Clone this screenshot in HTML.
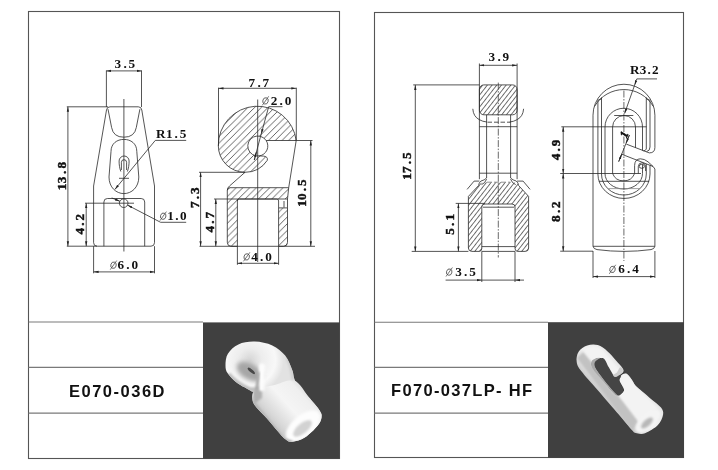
<!DOCTYPE html>
<html><head><meta charset="utf-8">
<style>
html,body{margin:0;padding:0;background:#fff;}
body{width:718px;height:470px;overflow:hidden;font-family:"Liberation Sans",sans-serif;}
svg{display:block;filter:grayscale(1);}
.f{fill:none;stroke:#555;stroke-width:1.1;}
.g{fill:none;stroke:#7a7a7a;stroke-width:1.1;}
.l{fill:none;stroke:#2a2a2a;stroke-width:0.8;}
.d{fill:none;stroke:#2a2a2a;stroke-width:0.7;stroke-dasharray:7 1.5 1.5 1.5;}
.t{font-family:"Liberation Serif",serif;font-weight:bold;font-size:13.2px;fill:#111;}
.r{stroke:#111;stroke-width:0.45px;}
.lab{font-family:"Liberation Sans",sans-serif;font-weight:bold;font-size:16.5px;fill:#111;}
</style></head><body>
<svg width="718" height="470" viewBox="0 0 718 470">
<defs>
<marker id="a" viewBox="0 0 10 10" refX="10" refY="5" markerWidth="5" markerHeight="5" orient="auto-start-reverse" markerUnits="userSpaceOnUse"><path d="M0 2.7 L10 5 L0 7.3z" fill="#222"/></marker>
<g id="dia"><ellipse cx="0.2" cy="-4" rx="2.7" ry="3.2" transform="rotate(18 0.2 -4)" fill="none" stroke="#444" stroke-width="0.75"/><path d="M-3 0.4 L3.4 -8.6" stroke="#444" stroke-width="0.75" fill="none"/></g>
<pattern id="h" width="6.7" height="6.7" patternUnits="userSpaceOnUse" patternTransform="translate(0.3 0)"><path d="M-1 7.7 L7.7 -1 M-1 1 L1 -1 M5.7 7.7 L7.7 5.7" stroke="#3a3a3a" stroke-width="0.8" fill="none"/></pattern>
<pattern id="h2" width="6.7" height="6.7" patternUnits="userSpaceOnUse" patternTransform="translate(1.8 0)"><path d="M-1 7.7 L7.7 -1 M-1 1 L1 -1 M5.7 7.7 L7.7 5.7" stroke="#3a3a3a" stroke-width="0.8" fill="none"/></pattern>
<pattern id="h3" width="10" height="3.7" patternUnits="userSpaceOnUse" patternTransform="translate(469.6 203.2) rotate(-52)"><path d="M0 0.4 H10" stroke="#3a3a3a" stroke-width="0.8" fill="none"/></pattern>
<!--DEFS-->
</defs>
<rect width="718" height="470" fill="#fff"/>
<g id="frames">
<rect class="f" x="28.5" y="11.5" width="311" height="447"/>
<rect class="f" x="374.5" y="12.5" width="309" height="445"/>
<path class="g" d="M28.5 322H203 M28.5 367.4H203 M28.5 413.1H203"/>
<path class="g" d="M374.5 322.3H548 M374.5 367.4H548 M374.5 413.1H548"/>
<rect x="203" y="322.4" width="136.6" height="136.2" fill="#404040"/>
<rect x="548" y="322.2" width="136" height="135.6" fill="#404040"/>
</g>
<text class="lab" x="69" y="397.3" textLength="95.5" lengthAdjust="spacing">E070-036D</text>
<text class="lab" x="391" y="396.3" textLength="141" lengthAdjust="spacing">F070-037LP- HF</text>
<g id="draw1">
<path class="l" d="M93.6 242.7 V186 L106.5 110 Q107 106.8 110 106.8 H138.3 Q141.3 106.8 141.8 110 L154.5 186 V242.7 Q154.5 246.2 151 246.2 H97.1 Q93.6 246.2 93.6 242.7 Z"/>
<path class="l" d="M108 109.2 L111.6 127.5 Q113.3 137.2 123.9 137.2 Q134.6 137.2 136.3 127.5 L139.9 109.2"/>
<path class="l" d="M111 151.5 C111 143.5 117 139.4 123.9 139.4 C130.8 139.4 136.8 143.5 136.8 151.5 L138.8 177 C138.8 187.5 131.5 193.6 123.9 193.6 C116.3 193.6 109 187.5 109 177 Z"/>
<path class="l" d="M120.8 171.5 C119.6 168 119.1 165 119.1 161 A5 5 0 0 1 129.1 161 C129.1 165 128.6 168 127.4 171.5"/>
<path class="l" d="M121.4 170 V162.3 A2.6 2.6 0 0 1 126.6 162.3 V170"/>
<path class="l" d="M119 178.3 H129"/>
<path class="l" d="M103.9 246.2 V202 Q103.9 198.5 107.4 198.5 H141.2 Q144.7 198.5 144.7 202 V246.2"/>
<circle class="l" cx="123.7" cy="203.2" r="4.3"/>
<path class="l" d="M123.9 99 V251.5"/>
<path class="l" d="M106.4 70.4 V107 M141.5 70.4 V107"/>
<path class="l" d="M106.4 70.9 H141.5" marker-start="url(#a)" marker-end="url(#a)"/>
<text class="t" transform="translate(114.90 68.00)" x="-0.30 8.50 13.70">3.5</text>
<path class="l" d="M66.8 106.8 H108 M66.8 246.2 H97"/>
<path class="l" d="M67.9 106.8 V246.2" marker-start="url(#a)" marker-end="url(#a)"/>
<text class="t r" transform="translate(66.00 175.90) rotate(-90)" x="-14.30 -7.30 1.80 7.30">13.8</text>
<path class="l" d="M85 203.2 H134"/>
<path class="l" d="M86.2 203.2 V246.2" marker-start="url(#a)" marker-end="url(#a)"/>
<text class="t r" transform="translate(84.00 224.00) rotate(-90)" x="-10.50 -1.70 3.50">4.2</text>
<path class="l" d="M186.2 140.4 H155.3 L114.9 189.4" marker-end="url(#a)"/>
<text class="t" transform="translate(156.40 138.30)" x="-0.30 9.60 18.10 23.30">R1.5</text>
<path class="l" d="M111.7 197.9 L119.9 201.3" marker-end="url(#a)"/>
<path class="l" d="M186.2 222.3 H160.6 L127.5 205.1" marker-end="url(#a)"/>
<use href="#dia" x="163.00" y="220.20"/><text class="t" transform="translate(167.20 220.20)" x="0.00 8.10 12.90">1.0</text>
<path class="l" d="M93.6 246.2 V273.3 M154.5 246.2 V273.3"/>
<path class="l" d="M93.6 271.9 H154.5" marker-start="url(#a)" marker-end="url(#a)"/>
<use href="#dia" x="113.30" y="269.20"/><text class="t" transform="translate(117.80 269.20)" x="-0.30 8.50 13.70">6.0</text>
</g>
<g id="draw2">
<path class="l" style="fill:url(#h)" d="M296.2 140.5 A39.1 39.1 0 0 0 218.3 145.6 A26.7 26.7 0 0 0 245 172.3 A26.7 26.7 0 0 0 267.3 160.3 Q268.2 156.6 263.5 156.1 L259.3 155.9 A10 10 0 1 1 266.15 140.5 Z"/>
<path class="l" d="M259.3 155.9 A10 10 0 0 0 266.15 140.5"/>
<path class="l" d="M245 172.3 L229.5 186 Q227.6 187.6 227.4 190 M296.2 140.5 L288.7 187.7"/>
<path class="l" style="fill:url(#h2)" d="M227.3 190 Q227.4 187.7 230 187.7 H288.7 L287.5 199 H237.4 V246.3 H231.2 Q227.3 246.3 227.3 242.3 Z"/>
<path class="l" style="fill:url(#h2)" d="M278.6 207.9 H287.5 V242.3 Q287.5 246.3 283.5 246.3 H278.6 Z"/>
<path class="l" d="M237.4 201 Q237.4 199 239.3 199 H276.8 Q278.6 199 278.6 201 V207.9 M287.5 199 V207.9 M284 201 V207.5"/>
<path class="l" d="M257.7 99.5 V262"/>
<path class="l" d="M218.5 87.7 V146 M296.3 87.7 V140.5"/>
<path class="l" d="M218.5 88.3 H296.3" marker-start="url(#a)" marker-end="url(#a)"/>
<text class="t" transform="translate(248.90 86.60)" x="-0.30 8.50 13.70">7.7</text>
<path class="l" d="M282.5 106.7 H268.7 L261.2 134" marker-end="url(#a)"/>
<path class="l" d="M261.2 134 L254.3 160"/>
<path class="l" d="M256.4 152 L254.3 160" marker-start="url(#a)"/>
<use href="#dia" x="265.30" y="104.90"/><text class="t" transform="translate(271.00 104.90)" x="-0.30 8.50 13.70">2.0</text>
<path class="l" d="M296.2 140.5 H312.5 M199.5 246.3 H315"/>
<path class="l" d="M310.8 140.5 V246.3" marker-start="url(#a)" marker-end="url(#a)"/>
<text class="t r" transform="translate(305.50 193.00) rotate(-90)" x="-13.70 -7.00 1.80 7.00">10.5</text>
<path class="l" d="M199 172.3 H245"/>
<path class="l" d="M200.6 172.3 V246.3" marker-start="url(#a)" marker-end="url(#a)"/>
<text class="t r" transform="translate(199.00 197.50) rotate(-90)" x="-10.50 -1.70 3.50">7.3</text>
<path class="l" d="M214 199 H237.5"/>
<path class="l" d="M215.8 199 V246.3" marker-start="url(#a)" marker-end="url(#a)"/>
<text class="t r" transform="translate(214.00 222.00) rotate(-90)" x="-10.50 -1.70 3.50">4.7</text>
<path class="l" d="M237.4 246.3 V264.8 M278.6 246.3 V264.8"/>
<path class="l" d="M237.4 263.3 H278.6" marker-start="url(#a)" marker-end="url(#a)"/>
<use href="#dia" x="246.50" y="260.90"/><text class="t" transform="translate(251.50 260.90)" x="-0.30 8.50 13.70">4.0</text>
</g>
<g id="draw3">
<!-- top block -->
<rect class="l" style="fill:url(#h3)" x="479.4" y="84.9" width="37.7" height="29.9" rx="4.5"/>
<!-- ears -->
<path class="l" d="M472.8 108.8 Q473.3 116.5 479.2 119.6 Q482.5 121.6 486.8 122 M523.6 108.8 Q523.1 116.5 517.2 119.6 Q513.9 121.6 509.7 122"/>
<!-- neck + ext lines -->
<path class="l" d="M479.4 63.5 V179.2 M517.1 63.5 V179.2 M486.6 114.8 V178 M510.6 114.8 V178"/>
<path class="l" d="M479.4 126.7 H517.1 M479.4 173.2 H517.1"/>
<path class="l" style="stroke-dasharray:4.5 2" d="M487.5 122.2 H510.5"/>
<!-- fillets neck->body -->
<path class="l" d="M486.6 178 Q484.5 180.2 481 181 Q478.8 182.5 478.6 185.5 M486.6 179.2 Q485 183.5 481.5 184.6 M510.6 178 Q512.7 180.2 516.2 181 Q518.4 182.5 518.6 185.5 M510.6 179.2 Q512.2 183.5 515.7 184.6"/>
<path class="l" d="M474.1 181.1 H479.4 M517.1 181.1 H523.1 M474.1 181.1 L467.1 189.4 M523.1 181.1 L530.1 189.4"/>
<!-- body hatch -->
<path style="fill:url(#h3);stroke:none" d="M478.6 185.5 Q479 182.3 486.6 182.3 H510.6 Q518.2 182.3 518.6 185.5 L528.6 196.4 V248 Q528.6 251.4 525 251.4 H518 Q515 251.4 515 248.5 V207 Q515 204 512 204 H485 Q481.8 204 481.8 207 V248.5 Q481.8 251.4 479 251.4 H472 Q468.4 251.4 468.4 248 V196.4 Z"/>
<path class="l" d="M478.6 185.5 L468.4 196.4 V248 Q468.4 251.4 472 251.4 H479 Q481.8 251.4 481.8 248.5 V207 Q481.8 204 485 204 H512 Q515 204 515 207 V248.5 Q515 251.4 518 251.4 H525 Q528.6 251.4 528.6 248 V196.4 L518.6 185.5"/>
<path class="l" style="stroke:#777;stroke-dasharray:5 2" d="M487 182.2 H510.4"/>
<path class="l" d="M483 207.2 H514 M481.8 246.6 H515 M481.8 251.4 H515"/>
<!-- center -->
<path class="d" d="M498.3 82.6 V257.5"/>
<!-- 3.9 -->
<path class="l" d="M479.4 65.3 H517.1" marker-start="url(#a)" marker-end="url(#a)"/>
<text class="t" transform="translate(488.90 61.20)" x="-0.30 8.50 13.70">3.9</text>
<!-- 17.5 -->
<path class="l" d="M413.2 84.9 H479.4 M411.7 251.4 H468.4"/>
<path class="l" d="M415.3 84.9 V251.4" marker-start="url(#a)" marker-end="url(#a)"/>
<text class="t r" transform="translate(411.00 166.00) rotate(-90)" x="-13.70 -7.00 1.80 7.00">17.5</text>
<!-- 5.1 -->
<path class="l" d="M455.7 203.4 H485"/>
<path class="l" d="M458.4 203.4 V251.4" marker-start="url(#a)" marker-end="url(#a)"/>
<text class="t r" transform="translate(454.40 224.30) rotate(-90)" x="-10.50 -1.70 3.80">5.1</text>
<!-- dia 3.5 -->
<path class="l" d="M481.8 251.4 V282 M515 251.4 V282"/>
<path class="l" d="M445.6 280.1 H481.8" marker-end="url(#a)"/>
<path class="l" d="M524 280.1 H515" marker-end="url(#a)"/>
<path class="l" d="M481.8 280.1 H515"/>
<use href="#dia" x="449.00" y="276.10"/><text class="t" transform="translate(455.60 276.10)" x="-0.30 8.50 13.70">3.5</text>
</g>
<g id="draw4">
<!-- outer silhouette -->
<path class="l" d="M593 246.3 V115.2 A30.95 30.95 0 0 1 654.9 115.2 V147.5 Q654.9 152.9 649.3 152.9 M654.9 246.3 V169 L653.1 166.5"/>
<!-- second top arc and chamfer verticals -->
<path class="l" d="M594.6 106.3 A34 34 0 0 1 653.2 106.3"/>
<path class="l" d="M597.9 100.3 V174 M601.5 97.4 V174 M650 100.3 V147 M646.3 97.4 V149"/>
<path class="l" d="M597.9 100.3 L601.5 98.6 M650 100.3 L646.3 98.6"/>
<!-- slot arches -->
<path class="l" d="M605 173.5 V127 A18.75 18.75 0 0 1 642.5 127 V150.6"/>
<path class="l" d="M612.6 173.5 V127 A11.45 11.45 0 0 1 635.5 127 V147.8"/>
<path class="l" d="M614.2 115.5 H633.3"/>
<!-- right arm rounded end -->
<path class="l" d="M650 147 Q650 151 646.5 151.6 M646.3 149 Q645.5 150.8 643.5 151"/>
<!-- gap diagonals -->
<path class="l" d="M626.3 144.1 L649.3 152.9 M621.4 154.1 L653.1 166.5"/>
<!-- hook tip -->
<path class="l" d="M634.6 173.5 V165.5 Q634.8 159 640.3 158.8 Q644.5 158.8 648 161.8 L653.1 166.5 M638.3 173.5 V166.5 Q638.6 162.8 641.8 162.8 Q645.3 163 645.6 166.2 V171 M642.5 165 V173.5 M650 165.3 V174 M646.3 164 V174"/>
<ellipse class="l" cx="641.8" cy="166.3" rx="2.6" ry="2"/>
<!-- U bottoms -->
<path class="l" d="M612.6 173.5 A11.7 11.2 0 0 0 634.6 173.5"/>
<path class="l" d="M605 173.5 A18.75 15.5 0 0 0 642.5 173.5"/>
<path class="l" d="M601.5 174 A22.4 21 0 0 0 646.3 174"/>
<path class="l" d="M597.9 174 A26.05 24.5 0 0 0 650 174"/>
<path class="l" d="M598.8 181.3 H649.2"/>
<path class="l" style="stroke:#888" d="M608.5 188.6 H640"/>
<!-- bottom -->
<path class="l" d="M593 246.3 H654.9 M593 246.3 Q593.5 249 597 249.6 Q624 253.2 651 249.6 Q654.4 249 654.9 246.3"/>
<!-- center -->
<path class="d" d="M623.9 90.5 V261"/>
<!-- R3.2 -->
<path class="l" d="M657 78.9 H636.8 L634.6 85.2" marker-end="url(#a)"/>
<path class="l" d="M634.6 85.2 L624.6 113.5" marker-end="url(#a)"/>
<text class="t" transform="translate(630.40 74.20)" x="-0.30 9.30 17.20 21.50">R3.2</text>
<!-- 4.9 / 8.2 -->
<path class="l" d="M561.3 126.8 H646.5 M560.2 173.5 H641 M560.2 251.2 H593"/>
<path class="l" d="M563.2 126.8 V173.5" marker-start="url(#a)" marker-end="url(#a)"/>
<path class="l" d="M563.2 173.5 V251.2" marker-start="url(#a)" marker-end="url(#a)"/>
<text class="t r" transform="translate(559.60 149.70) rotate(-90)" x="-10.50 -1.70 3.50">4.9</text>
<text class="t r" transform="translate(559.60 211.40) rotate(-90)" x="-10.50 -1.70 3.50">8.2</text>
<!-- 1 -->
<path class="l" d="M629.4 135 L618.7 161.6"/>
<path class="l" d="M629.4 135 L626.2 143" marker-end="url(#a)"/>
<path class="l" d="M618.7 161.6 L621.7 154.2" marker-end="url(#a)"/>
<text transform="translate(626.4 138.6) rotate(-68)" style="font-family:'Liberation Serif',serif;font-weight:bold;font-style:italic;font-size:11.5px;fill:#111;stroke:#111;stroke-width:0.5px">1</text>
<!-- dia 6.4 -->
<path class="l" d="M593 251 V278 M654.9 251 V278"/>
<path class="l" d="M593 276.6 H654.9" marker-start="url(#a)" marker-end="url(#a)"/>
<use href="#dia" x="612.30" y="273.40"/><text class="t" transform="translate(618.60 273.40)" x="-0.30 8.50 13.70">6.4</text>
</g>
<g id="photo1">
<defs>
<filter id="b1" x="-10%" y="-10%" width="120%" height="120%"><feGaussianBlur stdDeviation="0.7"/></filter>
<filter id="b2" x="-30%" y="-30%" width="160%" height="160%"><feGaussianBlur stdDeviation="2.2"/></filter>
<filter id="b3" x="-30%" y="-30%" width="160%" height="160%"><feGaussianBlur stdDeviation="1.2"/></filter>
<linearGradient id="cg1" gradientUnits="userSpaceOnUse" x1="258" y1="420" x2="302" y2="381">
<stop offset="0" stop-color="#b8b8b8"/><stop offset="0.25" stop-color="#d9d9d9"/><stop offset="0.55" stop-color="#f5f5f5"/><stop offset="0.85" stop-color="#efefef"/><stop offset="1" stop-color="#d4d4d4"/></linearGradient>
<radialGradient id="hg1" gradientUnits="userSpaceOnUse" cx="250" cy="360" r="34">
<stop offset="0" stop-color="#d6d6d6"/><stop offset="0.35" stop-color="#ededed"/><stop offset="0.75" stop-color="#f8f8f8"/><stop offset="1" stop-color="#e2e2e2"/></radialGradient>
<clipPath id="c1"><path d="M225.5 365.4 C225.5 362.1 225.7 357.2 227.9 353.7 C230.0 350.2 233.9 346.4 238.4 344.4 C242.9 342.3 249.1 341.4 254.8 341.6 C260.4 341.7 267.3 343.2 272.3 345.5 C277.4 347.9 281.9 351.5 285.2 355.6 C288.5 359.7 290.5 365.7 292.2 370.1 C294.0 374.5 293.0 377.3 295.7 381.8 C298.5 386.3 304.6 392.3 308.6 397.0 C312.6 401.8 317.5 407.0 319.6 410.4 C321.8 413.8 321.8 414.8 321.5 417.4 C321.1 420.0 320.2 422.5 317.5 425.8 C314.8 429.1 309.1 434.7 305.1 437.3 C301.1 439.9 296.7 441.2 293.4 441.5 C290.1 441.8 289.3 442.7 285.2 439.1 C281.1 435.6 274.1 426.4 268.8 420.4 C263.6 414.5 256.1 407.8 253.6 403.3 C251.1 398.9 254.2 395.7 253.6 393.5 C253.0 391.4 252.8 392.2 250.1 390.5 C247.4 388.7 240.9 385.8 237.2 383.0 C233.5 380.2 229.8 376.5 227.9 373.6 C225.9 370.7 225.5 368.7 225.5 365.4Z"/></clipPath>
</defs>
<g filter="url(#b1)">
<path d="M225.5 365.4 C225.5 362.1 225.7 357.2 227.9 353.7 C230.0 350.2 233.9 346.4 238.4 344.4 C242.9 342.3 249.1 341.4 254.8 341.6 C260.4 341.7 267.3 343.2 272.3 345.5 C277.4 347.9 281.9 351.5 285.2 355.6 C288.5 359.7 290.5 365.7 292.2 370.1 C294.0 374.5 293.0 377.3 295.7 381.8 C298.5 386.3 304.6 392.3 308.6 397.0 C312.6 401.8 317.5 407.0 319.6 410.4 C321.8 413.8 321.8 414.8 321.5 417.4 C321.1 420.0 320.2 422.5 317.5 425.8 C314.8 429.1 309.1 434.7 305.1 437.3 C301.1 439.9 296.7 441.2 293.4 441.5 C290.1 441.8 289.3 442.7 285.2 439.1 C281.1 435.6 274.1 426.4 268.8 420.4 C263.6 414.5 256.1 407.8 253.6 403.3 C251.1 398.9 254.2 395.7 253.6 393.5 C253.0 391.4 252.8 392.2 250.1 390.5 C247.4 388.7 240.9 385.8 237.2 383.0 C233.5 380.2 229.8 376.5 227.9 373.6 C225.9 370.7 225.5 368.7 225.5 365.4Z" fill="url(#hg1)"/>
<path d="M254.8 390.0 C258.1 387.0 267.0 386.9 273.5 385.3 C280.1 383.8 288.3 378.7 294.1 380.6 C300.0 382.6 304.4 392.1 308.6 397.0 C312.9 402.0 317.5 407.0 319.6 410.4 C321.8 413.8 321.8 414.8 321.5 417.4 C321.1 420.0 320.2 422.5 317.5 425.8 C314.8 429.1 309.1 434.7 305.1 437.3 C301.1 439.9 296.7 441.2 293.4 441.5 C290.1 441.8 289.3 442.7 285.2 439.1 C281.1 435.6 274.1 426.4 268.8 420.4 C263.6 414.5 256.0 408.4 253.6 403.3 C251.3 398.3 251.5 393.0 254.8 390.0Z" fill="url(#cg1)"/>
<g clip-path="url(#c1)">
<!-- shadow inside ring near hole -->
<ellipse cx="249.5" cy="371.5" rx="14" ry="8" transform="rotate(30 249.5 371.5)" fill="#a6a6a6" filter="url(#b2)"/>
<!-- ring bottom shading -->
<path d="M228.5 374 Q236 383 250 389.5 L258 389.5" stroke="#bdbdbd" stroke-width="4" fill="none" filter="url(#b3)"/>
<path d="M287 358 Q292 368 293 380" stroke="#cfcfcf" stroke-width="3" fill="none" filter="url(#b3)"/>
<!-- shadow under head on cylinder -->
<path d="M253 392 L262 384 L262 398 L254 404Z" fill="#b0b0b0" filter="url(#b3)"/>
<!-- tab -->
<path d="M259 365 Q262 361.5 265 365 L264.5 390 Q261 393 258.5 389Z" fill="#fcfcfc" filter="url(#b3)"/>
<path d="M257.5 372 L259.5 372 L258.5 390 L255 390Z" fill="#a8a8a8" filter="url(#b3)"/>
<!-- hole -->
<ellipse cx="251.3" cy="370.9" rx="4.6" ry="1.5" transform="rotate(40 251.3 370.9)" fill="#484848"/>
<!-- end cap -->
<ellipse cx="303" cy="426" rx="20.5" ry="10.5" transform="rotate(-40 303 426)" fill="#fdfdfd" filter="url(#b3)"/>
<ellipse cx="302.5" cy="428.5" rx="11.5" ry="5" transform="rotate(-40 302.5 428.5)" fill="#d2d2d2" filter="url(#b3)"/>
<!-- lower-left edge darkening -->
<path d="M253 402 L284 440 L292 442" stroke="#b4b4b4" stroke-width="3" fill="none" filter="url(#b3)"/>
</g>
</g>
</g>
<g id="photo2">
<defs>
<linearGradient id="cg2" gradientUnits="userSpaceOnUse" x1="611" y1="411" x2="640" y2="385">
<stop offset="0" stop-color="#bdbdbd"/><stop offset="0.22" stop-color="#dcdcdc"/><stop offset="0.55" stop-color="#f1f1f1"/><stop offset="1" stop-color="#e6e6e6"/></linearGradient>
<clipPath id="c2"><path d="M576.7 361.9 C576.2 358.7 576.8 354.6 578.6 351.8 C580.3 349.1 584.0 346.7 587.2 345.5 C590.4 344.4 594.4 344.1 597.8 345.1 C601.2 346.0 604.6 348.8 607.6 351.4 C610.6 354.0 613.4 357.4 616.0 360.5 C618.7 363.6 622.9 367.7 623.5 370.1 C624.1 372.5 621.5 373.5 619.8 374.8 C618.0 376.0 615.1 378.8 613.0 377.6 C610.9 376.3 608.9 370.3 607.1 367.3 C605.4 364.3 604.2 360.9 602.4 359.3 C600.7 357.8 598.4 357.5 596.6 358.2 C594.8 358.9 591.8 361.6 591.4 363.6 C591.1 365.5 592.2 367.1 594.3 370.1 C596.3 373.1 600.5 377.6 603.6 381.3 C606.7 385.1 610.6 390.2 613.0 392.6 C615.4 394.9 616.1 395.7 617.9 395.4 C619.7 395.1 623.4 392.5 624.0 390.7 C624.6 388.9 622.4 386.4 621.6 384.6 C620.9 382.8 619.6 381.5 619.5 379.9 C619.5 378.4 620.3 376.3 621.4 375.3 C622.5 374.2 624.6 372.9 626.3 373.6 C628.0 374.3 630.2 377.5 631.7 379.5 C633.2 381.4 633.5 383.3 635.2 385.3 C637.0 387.3 639.5 389.1 642.2 391.4 C645.0 393.7 648.5 396.7 651.6 399.4 C654.7 402.0 659.0 405.0 661.0 407.5 C662.9 410.1 663.6 411.6 663.1 414.6 C662.6 417.5 660.9 422.0 657.9 425.1 C654.9 428.2 648.7 432.0 645.0 433.3 C641.3 434.6 637.9 433.6 635.7 433.1 C633.5 432.5 634.5 432.9 631.7 429.8 C628.9 426.7 624.5 421.2 618.8 414.6 C613.2 408.0 604.0 397.4 597.8 390.2 C591.5 383.0 584.9 376.0 581.4 371.3 C577.9 366.6 577.2 365.2 576.7 361.9Z"/></clipPath>
</defs>
<g filter="url(#b1)">
<path d="M576.7 361.9 C576.2 358.7 576.8 354.6 578.6 351.8 C580.3 349.1 584.0 346.7 587.2 345.5 C590.4 344.4 594.4 344.1 597.8 345.1 C601.2 346.0 604.6 348.8 607.6 351.4 C610.6 354.0 613.4 357.4 616.0 360.5 C618.7 363.6 622.9 367.7 623.5 370.1 C624.1 372.5 621.5 373.5 619.8 374.8 C618.0 376.0 615.1 378.8 613.0 377.6 C610.9 376.3 608.9 370.3 607.1 367.3 C605.4 364.3 604.2 360.9 602.4 359.3 C600.7 357.8 598.4 357.5 596.6 358.2 C594.8 358.9 591.8 361.6 591.4 363.6 C591.1 365.5 592.2 367.1 594.3 370.1 C596.3 373.1 600.5 377.6 603.6 381.3 C606.7 385.1 610.6 390.2 613.0 392.6 C615.4 394.9 616.1 395.7 617.9 395.4 C619.7 395.1 623.4 392.5 624.0 390.7 C624.6 388.9 622.4 386.4 621.6 384.6 C620.9 382.8 619.6 381.5 619.5 379.9 C619.5 378.4 620.3 376.3 621.4 375.3 C622.5 374.2 624.6 372.9 626.3 373.6 C628.0 374.3 630.2 377.5 631.7 379.5 C633.2 381.4 633.5 383.3 635.2 385.3 C637.0 387.3 639.5 389.1 642.2 391.4 C645.0 393.7 648.5 396.7 651.6 399.4 C654.7 402.0 659.0 405.0 661.0 407.5 C662.9 410.1 663.6 411.6 663.1 414.6 C662.6 417.5 660.9 422.0 657.9 425.1 C654.9 428.2 648.7 432.0 645.0 433.3 C641.3 434.6 637.9 433.6 635.7 433.1 C633.5 432.5 634.5 432.9 631.7 429.8 C628.9 426.7 624.5 421.2 618.8 414.6 C613.2 408.0 604.0 397.4 597.8 390.2 C591.5 383.0 584.9 376.0 581.4 371.3 C577.9 366.6 577.2 365.2 576.7 361.9Z" fill="url(#cg2)"/>
<g clip-path="url(#c2)">
<!-- left dark band on the flat part -->
<path d="M577 358 L583 352 L640 420 L632 431Z" fill="#c2c2c2" filter="url(#b3)"/>
<!-- front face highlight -->
<path d="M584 350 Q592 343 602 349 L621 371 L613 377 L599 361 Q594 358 591.5 364 L614 393 Q618 397 624 390 L619.5 380 L622 374 L628 374 L636 386 L658 408 L640 424Z" fill="#f3f3f3" filter="url(#b3)"/>
<!-- end cap -->
<ellipse cx="648" cy="421" rx="15.5" ry="7.5" transform="rotate(-42 648 421)" fill="#f4f4f4" filter="url(#b3)"/>
<ellipse cx="647" cy="423" rx="7.5" ry="3.3" transform="rotate(-42 647 423)" fill="#b8b8b8" filter="url(#b3)"/>
</g>
<!-- slot inner wall (visible, gray) -->
<path d="M591.2 364.0 C591.1 362.3 591.7 361.0 592.6 360.0 C593.5 359.1 595.3 358.4 596.6 358.2 C597.8 357.9 600.1 357.9 600.1 358.4 C600.1 358.9 597.5 360.0 596.6 361.2 C595.7 362.4 594.7 363.7 595.0 365.4 C595.2 367.2 595.9 368.4 598.2 371.7 C600.5 375.1 605.6 381.7 608.8 385.5 C612.0 389.4 616.6 393.6 617.4 394.9 C618.2 396.2 616.0 395.7 613.7 393.5 C611.4 391.3 607.0 385.7 603.6 381.8 C600.3 377.9 595.6 373.1 593.6 370.1 C591.5 367.1 591.4 365.7 591.2 364.0Z" fill="#a9a9a9"/>
<!-- slot dark -->
<path d="M596.8 360.3 C598.3 359.2 601.6 357.2 603.6 358.4 C605.6 359.6 607.0 364.3 608.8 367.3 C610.6 370.3 612.7 374.9 614.4 376.2 C616.1 377.4 618.0 374.7 619.1 374.8 C620.2 374.9 620.9 375.6 620.9 376.7 C620.9 377.7 618.7 378.8 619.1 380.9 C619.5 383.0 622.8 387.2 623.3 389.3 C623.7 391.4 622.6 392.6 621.6 393.5 C620.7 394.4 619.6 396.3 617.4 394.9 C615.2 393.5 611.8 389.2 608.5 385.3 C605.3 381.4 600.3 374.9 598.0 371.5 C595.7 368.1 594.7 366.6 594.5 364.7 C594.3 362.8 595.3 361.3 596.8 360.3Z" fill="#444"/>
<!-- arm tip face -->
<path d="M620.2 367.3 C621.2 366.9 622.9 369.0 623.0 370.1 C623.2 371.2 622.4 372.7 621.2 373.8 C619.9 375.0 616.9 377.0 615.5 377.1 C614.2 377.3 613.0 375.6 613.2 374.8 C613.4 374.0 615.8 373.7 617.0 372.4 C618.1 371.2 619.2 367.7 620.2 367.3Z" fill="#cdcdcd"/>
</g>
</g>
</svg>
</body></html>
